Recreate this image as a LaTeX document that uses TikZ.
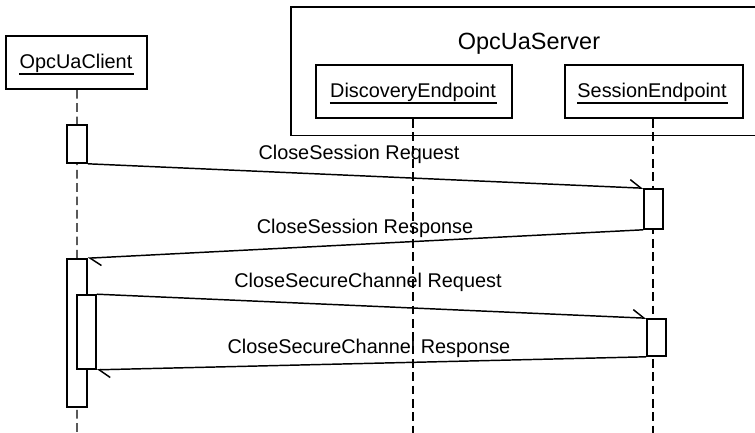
\documentclass[tikz,border=0pt]{standalone}
\usepackage{fontspec}
\setmainfont{Liberation Sans}
\usetikzlibrary{arrows.meta}
\begin{document}
\begin{tikzpicture}[x=0.75pt,y=-0.75pt,
  box/.style={draw, line width=1.3pt, fill=white, inner sep=0pt},
  actbox/.style={draw, line width=1.2pt, fill=white, inner sep=0pt},
  lbl/.style={font=\fontsize{14.9}{17}\selectfont, inner sep=0pt, anchor=base},
  big/.style={font=\fontsize{17.6}{20}\selectfont, inner sep=0pt, anchor=base},
  uline/.style={line width=0.9pt},
  life/.style={line width=1pt, dash pattern=on 6.5pt off 3.5pt},
  msg/.style={line width=1.1pt, -{Straight Barb[harpoon, length=8.25pt, width=12pt]}},
]
\useasboundingbox (0,0) rectangle (755,432);

% server container
\node[box, fill=none, minimum width=366.75pt, minimum height=96.4pt] (server) at (535.5,71.25) {};
\node[big] (serverT) at (529,49) {OpcUaServer};

% lifeline heads
\node[box, minimum width=105.75pt, minimum height=39.75pt] (client) at (76.5,62.5) {};
\node[box, minimum width=147pt, minimum height=39.75pt] (disc) at (414,91.5) {};
\node[box, minimum width=133.5pt, minimum height=39.75pt] (sess) at (654,91.5) {};

\node[lbl] (clientT) at (76,68) {OpcUaClient};
\node[lbl] (discT) at (413,97) {DiscoveryEndpoint};
\node[lbl] (sessT) at (652,97) {SessionEndpoint};
\foreach \t in {clientT,discT,sessT}
  \draw[uline] ([yshift=-4.5pt]\t.base west) -- ([yshift=-4.5pt,xshift=1pt]\t.base east);

% lifelines
\coordinate (clientEnd) at (77,434);
\coordinate (discEnd) at (413,434);
\coordinate (sessEnd) at (653,434);
\draw[life] ([xshift=0.4pt]client.south) -- (clientEnd);
\draw[life] ([xshift=-0.75pt]disc.south) -- (discEnd);
\draw[life] ([xshift=-0.75pt]sess.south) -- (sessEnd);

% activations
\node[actbox, minimum width=15pt, minimum height=28.5pt] (act1) at (77,144) {};
\node[actbox, minimum width=14.25pt, minimum height=30pt] (act2) at (653.5,209) {};
\node[actbox, minimum width=15pt, minimum height=111pt] (act3) at (77,333) {};
\node[actbox, minimum width=14.25pt, minimum height=55.5pt] (act4) at (86.5,332) {};
\node[actbox, minimum width=14.25pt, minimum height=27.75pt] (act5) at (656.5,337.5) {};

% messages
\draw[msg] (act1.south east) -- (act2.north west);
\draw[msg] (act2.south west) -- (act3.north east);
\draw[msg] (act4.north east) -- (act5.north west);
\draw[msg] (act5.south west) -- (act4.south east);

% labels
\node[lbl] (l1) at (359,159) {CloseSession Request};
\node[lbl] (l2) at (365,233) {CloseSession Response};
\node[lbl] (l3) at (368,287) {CloseSecureChannel Request};
\node[lbl] (l4) at (369,353) {CloseSecureChannel Response};
\end{tikzpicture}
\end{document}
